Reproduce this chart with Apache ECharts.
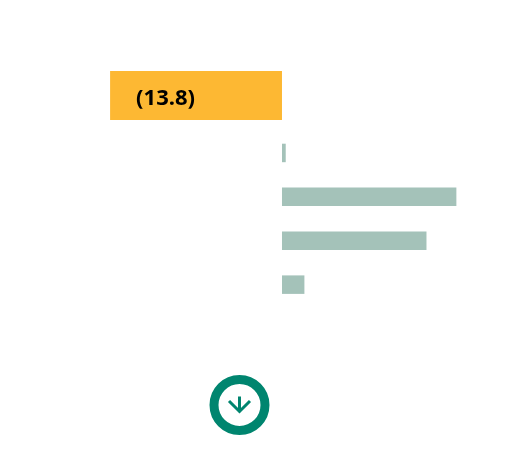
<!DOCTYPE html>
<html>
<head>
<meta charset="utf-8">
<script src="https://cdn.jsdelivr.net/npm/echarts@6/dist/echarts.min.js"></script>
<style>html,body{margin:0;padding:0;background:#fff}#c{width:527px;height:465px}</style>
</head>
<body>
<div id="c"></div>
<script>
// Data
const topCategory = ['Total'];
const topValues = [-13.8];
const categories = ['A', 'B', 'C', 'D'];
const values = [0.3, 14.0, 11.6, 1.8];

const chart = echarts.init(document.getElementById('c'), null, {renderer: 'canvas'});
const xCommon = {type: 'value', min: -14, max: 14.5, show: false};
const teal = '#00856f';
chart.setOption({
  animation: false,
  grid: [
    {left: 107.6, width: 355, top: 71, height: 49},
    {left: 107.6, width: 355, top: 131, height: 175.6}
  ],
  xAxis: [Object.assign({gridIndex: 0}, xCommon), Object.assign({gridIndex: 1}, xCommon)],
  yAxis: [
    {type: 'category', gridIndex: 0, data: topCategory, show: false, inverse: true},
    {type: 'category', gridIndex: 1, data: categories, show: false, inverse: true}
  ],
  series: [
    {
      type: 'bar', xAxisIndex: 0, yAxisIndex: 0, data: topValues, barWidth: 49,
      itemStyle: {color: '#fdb833'},
      label: {
        show: true, position: 'insideLeft', distance: 26, offset: [0, 3],
        formatter: p => '(' + Math.abs(p.value).toFixed(1) + ')',
        color: '#000', fontFamily: 'Open Sans', fontWeight: 'bold', fontSize: 22
      }
    },
    {
      type: 'bar', xAxisIndex: 1, yAxisIndex: 1, data: values, barWidth: 18.5,
      itemStyle: {color: '#a4c2b9'}
    }
  ],
  graphic: [
    {type: 'circle', shape: {cx: 239.5, cy: 405, r: 25.5}, style: {fill: 'none', stroke: teal, lineWidth: 9}},
    {type: 'line', shape: {x1: 239.5, y1: 396.5, x2: 239.5, y2: 411.5}, style: {stroke: teal, lineWidth: 3}},
    {type: 'polyline', shape: {points: [[229, 401], [239.5, 411.5], [250, 401]]}, style: {fill: 'none', stroke: teal, lineWidth: 3}}
  ]
});
</script>
</body>
</html>
